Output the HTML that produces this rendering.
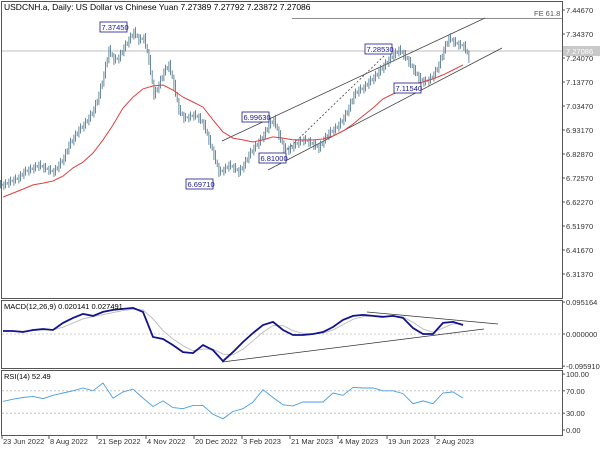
<!DOCTYPE html>
<html><head><meta charset="utf-8"><style>
html,body{margin:0;padding:0;background:#fff}
svg{display:block;font-family:"Liberation Sans",sans-serif}
</style></head><body>
<svg id="chart" width="600" height="450" viewBox="0 0 600 450">
<rect x="0" y="0" width="600" height="450" fill="#fff"/>
<g id="frames" stroke="#555" stroke-width="1" fill="none">
<rect x="1.5" y="1.5" width="561" height="297"/>
<rect x="1.5" y="300.5" width="561" height="68"/>
<rect x="1.5" y="370.5" width="561" height="65"/>
</g>
<g id="priceG"></g><g id="macdG"></g><g id="rsiG"></g><g id="axisG"></g>
<text x="4" y="10" font-size="8.5" fill="#000">USDCNH.a, Daily:  US Dollar vs Chinese Yuan  7.27389 7.27792 7.23872 7.27086</text>
<text x="4" y="309" font-size="7.5" fill="#000">MACD(12,26,9) 0.020141 0.027491</text>
<text x="4" y="379" font-size="7.5" fill="#000">RSI(14) 52.49</text>
</svg>
<script>
const closes=[6.696,6.708,6.717,6.726,6.751,6.760,6.769,6.781,6.769,6.760,6.751,6.781,6.811,6.867,6.897,6.932,6.953,6.983,7.018,7.082,7.168,7.275,7.232,7.241,7.284,7.318,7.352,7.318,7.327,7.232,7.082,7.125,7.181,7.211,7.125,7.018,6.983,6.987,6.996,6.983,6.953,6.889,6.824,6.751,6.760,6.781,6.769,6.751,6.781,6.824,6.854,6.880,6.910,6.953,6.975,6.910,6.854,6.846,6.867,6.880,6.889,6.880,6.867,6.854,6.889,6.919,6.932,6.953,6.983,7.026,7.082,7.103,7.112,7.138,7.155,7.181,7.206,7.232,7.254,7.275,7.254,7.224,7.189,7.155,7.138,7.146,7.168,7.211,7.275,7.327,7.309,7.297,7.292,7.241];
const maValues=[6.644,6.661,6.678,6.696,6.704,6.713,6.734,6.769,6.794,6.833,6.889,6.953,7.026,7.073,7.108,7.121,7.125,7.103,7.073,7.052,7.030,6.975,6.923,6.897,6.889,6.880,6.889,6.902,6.897,6.889,6.889,6.889,6.893,6.906,6.927,6.957,6.992,7.026,7.065,7.086,7.103,7.125,7.138,7.151,7.168,7.189,7.211];
const macdValues=[0.009,0.009,0.006,0.012,0.015,0.012,0.033,0.048,0.060,0.054,0.066,0.072,0.075,0.078,0.066,-0.009,-0.015,-0.033,-0.054,-0.057,-0.033,-0.048,-0.081,-0.054,-0.024,0.003,0.027,0.036,0.012,-0.003,-0.003,0.000,0.006,0.021,0.042,0.054,0.057,0.054,0.051,0.054,0.048,0.018,0.000,0.000,0.033,0.036,0.027];
const signalValues=[0.010,0.009,0.008,0.010,0.012,0.013,0.020,0.033,0.045,0.052,0.058,0.064,0.070,0.074,0.072,0.045,0.010,-0.015,-0.035,-0.050,-0.045,-0.045,-0.060,-0.062,-0.045,-0.020,0.005,0.025,0.025,0.010,0.002,0.000,0.003,0.012,0.028,0.044,0.052,0.054,0.053,0.053,0.051,0.035,0.015,0.005,0.018,0.030,0.030];
const rsiValues=[51,55,58,60,56,62,66,70,75,70,84,57,68,73,57,42,52,40,38,44,44,28,20,33,38,50,72,58,45,43,50,50,50,66,62,76,75,75,70,70,65,47,52,47,66,68,57];
const priceTicks=[7.44670,7.34370,7.24070,7.13770,7.03470,6.93170,6.82870,6.72570,6.62270,6.51970,6.41670,6.31370];
const macdTicks=[0.095164,0.000000,-0.095910];
const rsiTicks=[100,70,30,0];
const dateLabels=["23 Jun 2022","8 Aug 2022","21 Sep 2022","4 Nov 2022","20 Dec 2022","3 Feb 2023","21 Mar 2023","4 May 2023","19 Jun 2023","2 Aug 2023"];
const dateIdx=[-0.2,9.2,18.8,28.6,38.2,47.8,57.4,67,76.8,86.4];
const NS="http://www.w3.org/2000/svg";
function mk(tag,attrs,parent){const e=document.createElementNS(NS,tag);for(const k in attrs)e.setAttribute(k,attrs[k]);parent.appendChild(e);return e;}
const xBar=i=>3+i*5;
const xHalf=i=>3+i*10;
const yP=p=>10+(7.4467-p)*24/0.103;
const yM=v=>334-v*32/0.0955;
const yR=v=>430-v*0.56;
const pg=document.getElementById('priceG'),mg=document.getElementById('macdG'),rg=document.getElementById('rsiG'),ag=document.getElementById('axisG');
let l=mk('line',{x1:2,x2:562,y1:yP(7.27086),y2:yP(7.27086),stroke:'#aaa','stroke-width':0.8},pg);


l=mk('line',{x1:292,x2:562,y1:18.5,y2:18.5,stroke:'#666','stroke-width':0.8},pg);


let t=mk('text',{x:534,y:16,'font-size':7.5,fill:'#555'},pg);t.textContent='FE 61.8';


[[222,141,485,18,''],[268,170,502,48,''],[285,152,385,55,'2,2']].forEach(c=>{
 const e=mk('line',{x1:c[0],y1:c[1],x2:c[2],y2:c[3],stroke:'#444','stroke-width':0.8},pg);
 if(c[4])e.setAttribute('stroke-dasharray',c[4]);
 
 
});
const jit=[[0.010,-0.004],[-0.006,0.008],[0.004,-0.010]];
closes.forEach((c,i)=>{
 const prev=i>0?closes[i-1]:c;
 const x=xBar(i);
 for(let s=0;s<3;s++){
  const f=(s+1)/3;
  const mid=prev+(c-prev)*f;
  const hi=Math.max(mid,prev+(c-prev)*(f-0.34))+0.011+jit[s][0];
  const lo=Math.min(mid,prev+(c-prev)*(f-0.34))-0.011+jit[s][1];
  const xs=x-2.5+s*1.7;
  const b=mk('line',{x1:xs,x2:xs,y1:yP(hi),y2:yP(lo),stroke:'#5a7d93','stroke-width':0.9},pg);
  
  
 }
});
let d=maValues.map((v,i)=>(i?'L':'M')+xHalf(i)+','+yP(v).toFixed(1)).join('');
l=mk('path',{d:d,fill:'none',stroke:'#e04040','stroke-width':1},pg);


[[100,22,'7.37450'],[242,112,'6.99630'],[259,153,'6.81000'],[186,179,'6.69710'],[365,44,'7.28530'],[394,83,'7.11540']].forEach(a=>{
 const r=mk('rect',{x:a[0],y:a[1],width:27,height:10,fill:'#fff',stroke:'#1a1a8c','stroke-width':0.8},pg);
 
 
 const tt=mk('text',{x:a[0]+1.5,y:a[1]+8,'font-size':7.5,fill:'#1a1a8c'},pg);tt.textContent=a[2];
 
 
});
priceTicks.forEach(p=>{
 const y=yP(p);
 mk('line',{x1:562,x2:565,y1:y,y2:y,stroke:'#555'},ag);
 const tt=mk('text',{x:566,y:y+3,'font-size':7.5,fill:'#333'},ag);tt.textContent=p.toFixed(5);
 
 
});
let cb=mk('rect',{x:563,y:yP(7.27086)-5,width:37,height:10,fill:'#c8c8c8'},ag);


t=mk('text',{x:566,y:yP(7.27086)+3,'font-size':7.5,fill:'#fff'},ag);t.textContent='7.27086';


l=mk('line',{x1:2,x2:562,y1:yM(0),y2:yM(0),stroke:'#bbb','stroke-dasharray':'2,2','stroke-width':0.8},mg);


d=signalValues.map((v,i)=>(i?'L':'M')+xHalf(i)+','+yM(v).toFixed(1)).join('');
l=mk('path',{d:d,fill:'none',stroke:'#c0c0c0','stroke-width':1},mg);


d=macdValues.map((v,i)=>(i?'L':'M')+xHalf(i)+','+yM(v).toFixed(1)).join('');
l=mk('path',{d:d,fill:'none',stroke:'#12128a','stroke-width':1.8},mg);


[[222,362,484,329],[367,312,498,324]].forEach(c=>{
 const e=mk('line',{x1:c[0],y1:c[1],x2:c[2],y2:c[3],stroke:'#333','stroke-width':0.8},mg);
 
 
});
macdTicks.forEach(v=>{
 const y=yM(v);
 mk('line',{x1:562,x2:565,y1:y,y2:y,stroke:'#555'},ag);
 const tt=mk('text',{x:566,y:y+3,'font-size':7.5,fill:'#333'},ag);tt.textContent=v.toFixed(6);
 
 
});
[70,30].forEach(v=>{
 const e=mk('line',{x1:2,x2:562,y1:yR(v),y2:yR(v),stroke:'#bbb','stroke-dasharray':'2,2','stroke-width':0.8},rg);
 
 
});
d=rsiValues.map((v,i)=>(i?'L':'M')+xHalf(i)+','+yR(v).toFixed(1)).join('');
l=mk('path',{d:d,fill:'none',stroke:'#4a9ee0','stroke-width':0.9},rg);


rsiTicks.forEach(v=>{
 const y=yR(v);
 mk('line',{x1:562,x2:565,y1:y,y2:y,stroke:'#555'},ag);
 const tt=mk('text',{x:566,y:y+3,'font-size':7.5,fill:'#333'},ag);tt.textContent=v.toFixed(2);
 
 
});
dateLabels.forEach((s,k)=>{
 const x=xBar(dateIdx[k]);
 mk('line',{x1:x,x2:x,y1:436,y2:439,stroke:'#555'},ag);
 const tt=mk('text',{x:x+1,y:444,'font-size':7.5,fill:'#333'},ag);tt.textContent=s;
 
 
});
</script>
</body></html>
